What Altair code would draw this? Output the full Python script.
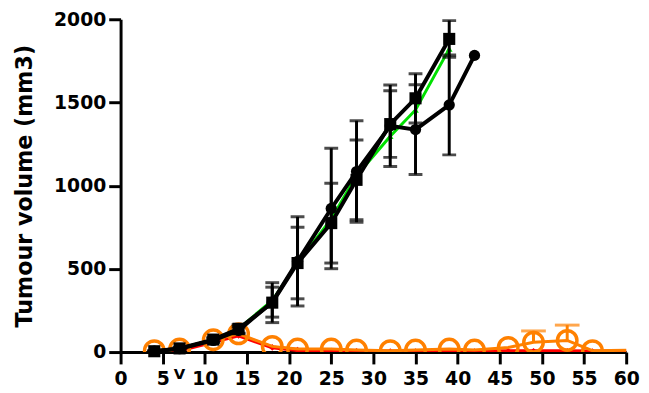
import altair as alt
import pandas as pd

# ---- data ----
black_days = [4, 7, 11, 14, 18, 21, 25, 28, 32, 35, 39]
square_vals = [5, 22, 75, 140, 297, 535, 775, 1035, 1370, 1525, 1882]
square_err = [3, 5, 12, 25, 120, 215, 240, 240, 200, 148, 110]

circle_days = [4, 7, 11, 14, 18, 21, 25, 28, 32, 35, 39, 42]
circle_vals = [5, 20, 70, 130, 300, 545, 863, 1085, 1360, 1337, 1485, 1783]
circle_err = [3, 5, 12, 20, 90, 268, 362, 305, 245, 270, 300, 0]

green_vals = [5, 20, 75, 140, 310, 535, 800, 1060, 1297, 1455, 1822]

low_days = [4, 7, 11, 14, 18, 21, 25, 28, 32, 35, 39, 42, 46, 49, 53, 56, 63]
orange_vals = [8, 18, 74, 110, 34, 18, 18, 12, 8, 12, 18, 12, 28, 59, 70, 8, 12]
orange_err_up = [0, 0, 0, 0, 0, 0, 0, 0, 0, 0, 0, 0, 0, 68, 92, 0, 0]
red_vals = [3, 10, 62, 100, 28, 12, 6, 5, 3, 3, 3, 3, 5, 5, 5, 3, 3]

marker_day = [7]
marker_label = ["V"]

x_ticks = list(range(0, 61, 5))
y_ticks = [0, 500, 1000, 1500, 2000]

# ---- tables ----
sq = pd.DataFrame({"day": black_days, "v": square_vals, "e": square_err})
ci = pd.DataFrame({"day": circle_days, "v": circle_vals, "e": circle_err})
gr = pd.DataFrame({"day": black_days, "v": green_vals})
orn = pd.DataFrame({"day": low_days, "v": orange_vals, "e": orange_err_up})
rd = pd.DataFrame({"day": low_days, "v": red_vals})
mk = pd.DataFrame({"day": marker_day, "label": marker_label})

berr = pd.concat([sq, ci], ignore_index=True)
berr = berr[berr["e"] > 0].copy()
berr["lo"] = berr["v"] - berr["e"]
berr["hi"] = berr["v"] + berr["e"]

oerr = orn[orn["e"] > 0].copy()
oerr["hi"] = oerr["v"] + oerr["e"]

FONT = "DejaVu Sans"
xs = alt.Scale(domain=[0, 60], nice=False, zero=False)
ys = alt.Scale(domain=[0, 2000], nice=False)
xaxis = alt.Axis(values=x_ticks, title=None, labelFlush=False, labelOverlap=False,
                 format="d")
yaxis = alt.Axis(values=y_ticks, title="Tumour volume (mm3)", labelFlush=False,
                 labelOverlap=False, format="d")


def X(field="day"):
    return alt.X(f"{field}:Q", scale=xs, axis=xaxis)


def Y(field="v"):
    return alt.Y(f"{field}:Q", scale=ys, axis=yaxis)


ORANGE = "#ff8000"
RED = "#ff0000"
GREEN = "#00e000"

o_stem = alt.Chart(oerr).mark_rule(color=ORANGE, strokeWidth=3).encode(
    x=X(), y=Y("v"), y2="hi:Q")
o_cap = alt.Chart(oerr).mark_tick(color=ORANGE, orient="horizontal", size=25,
                                  thickness=3).encode(x=X(), y=Y("hi"))

r_line = alt.Chart(rd).mark_line(color=RED, strokeWidth=4, clip=True).encode(x=X(), y=Y())
r_pts = alt.Chart(rd).mark_point(shape="diamond", filled=True, color=RED, size=45,
                                 opacity=1, clip=True).encode(x=X(), y=Y())

o_line = alt.Chart(orn).mark_line(color=ORANGE, strokeWidth=3, clip=True).encode(x=X(), y=Y())
o_pts = alt.Chart(orn).mark_point(shape="circle", filled=False, color=ORANGE, size=390,
                                  strokeWidth=3.5, opacity=1, clip=True).encode(x=X(), y=Y())

g_line = alt.Chart(gr).mark_line(color=GREEN, strokeWidth=3).encode(x=X(), y=Y())
g_pts = alt.Chart(gr).mark_point(shape="triangle-up", filled=True, color=GREEN, size=45,
                                 opacity=1).encode(x=X(), y=Y())

b_stem = alt.Chart(berr).mark_rule(color="black", strokeWidth=3, clip=True).encode(
    x=X(), y=Y("lo"), y2="hi:Q")
b_cap = alt.Chart(berr).mark_tick(color="black", orient="horizontal", size=14,
                                  thickness=3, clip=True).encode(x=X(), y=Y("hi"))
b_cap2 = alt.Chart(berr).mark_tick(color="black", orient="horizontal", size=14,
                                   thickness=3, clip=True).encode(x=X(), y=Y("lo"))

c_line = alt.Chart(ci).mark_line(color="black", strokeWidth=4).encode(x=X(), y=Y())
c_pts = alt.Chart(ci).mark_point(shape="circle", filled=True, color="black", size=130,
                                 opacity=1).encode(x=X(), y=Y())

s_line = alt.Chart(sq).mark_line(color="black", strokeWidth=4).encode(x=X(), y=Y())
s_pts = alt.Chart(sq).mark_point(shape="square", filled=True, color="black", size=150,
                                 opacity=1).encode(x=X(), y=Y())

marker = alt.Chart(mk).mark_text(font=FONT, fontWeight="bold", fontSize=15, color="black",
                                 baseline="middle", align="center").encode(
    x=X(), y=alt.value(359), text="label:N")

chart = alt.layer(
    o_stem, o_cap, r_line, r_pts, o_line, o_pts, g_line, g_pts,
    b_stem, b_cap, b_cap2, c_line, c_pts, s_line, s_pts, marker
).properties(
    width=512, height=337,
    padding={"left": 114, "top": 9, "right": 15, "bottom": 36},
    autosize=alt.AutoSizeParams(type="none"),
).configure_view(stroke=None).configure_axis(
    grid=False,
    domainColor="black", domainWidth=3,
    tickColor="black", tickWidth=3, tickSize=12,
    labelFont=FONT, labelFontWeight="bold", labelFontSize=19, labelColor="black",
    labelPadding=3,
    titleFont=FONT, titleFontWeight="bold", titleFontSize=22.5, titleColor="black",
    titlePadding=17,
).configure_axisX(labelPadding=6)

chart.save("out.html", embed_options={"renderer": "svg", "actions": False})
